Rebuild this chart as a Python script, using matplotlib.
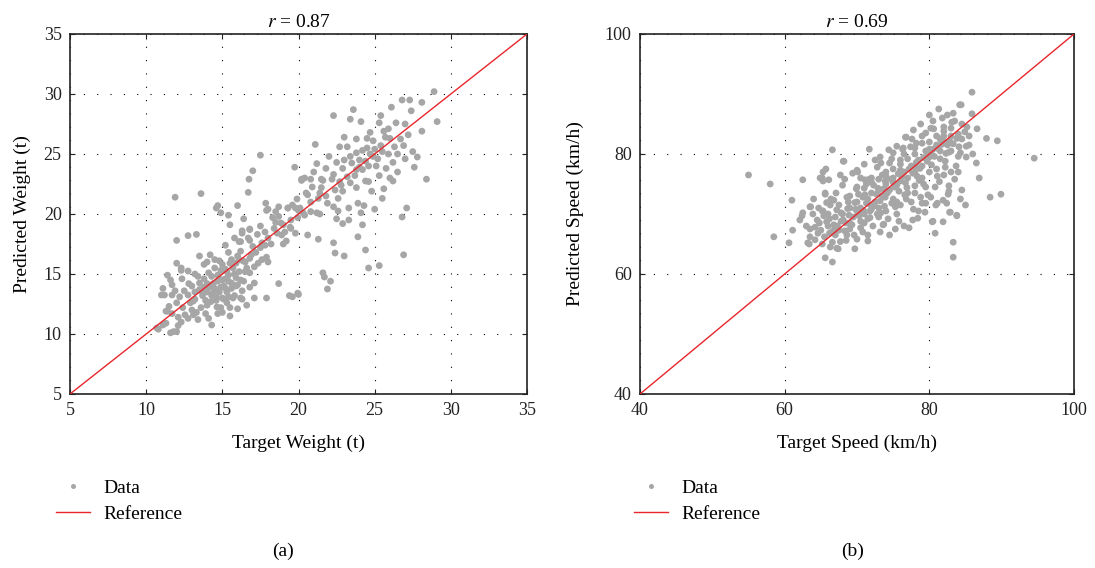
import numpy as np
import matplotlib
matplotlib.use("Agg")
import matplotlib.pyplot as plt
from matplotlib.lines import Line2D

plt.rcParams['font.family'] = ['Liberation Serif', 'DejaVu Serif']
plt.rcParams['mathtext.fontset'] = 'stix'

# --- (a) weight: (target, predicted) pairs ---
weight_pairs = [
    (10.7, 10.5), (10.8, 10.4), (11.1, 10.75), (11.3, 10.9), (11.6, 10.1), (12.0, 10.2), (11.8, 10.2),
    (12.1, 10.7), (12.3, 11.0), (11.3, 11.9), (11.7, 11.7), (11.4, 11.9), (12.1, 11.4), (12.4, 12.2),
    (12.55, 11.6), (12.75, 11.3), (13.1, 11.6), (13.3, 11.8), (13.4, 11.2), (13.1, 12.75), (13.9, 11.7),
    (13.9, 12.8), (14.3, 10.75), (14.25, 12.7), (14.7, 11.7), (14.9, 12.2), (14.65, 12.25), (11.0, 13.25),
    (11.2, 13.25), (11.7, 13.25), (12.2, 13.1), (12.75, 13.25), (11.1, 13.8), (11.7, 14.1), (11.6, 14.5),
    (11.4, 14.9), (12.0, 15.9), (12.3, 15.3), (12.35, 14.6), (12.75, 15.25), (12.3, 15.5), (13.5, 14.25),
    (13.5, 13.7), (14.0, 13.5), (14.3, 14.8), (14.5, 13.8), (14.8, 13.5), (14.7, 14.4), (15.0, 14.5),
    (15.1, 14.0), (14.9, 15.3), (15.4, 14.9), (15.6, 14.25), (15.9, 14.7), (15.7, 15.5), (16.4, 14.4),
    (16.35, 16.1), (16.8, 15.1), (17.1, 15.6), (15.4, 16.8), (16.0, 16.5), (14.8, 16.1), (16.2, 17.7),
    (16.3, 18.6), (16.8, 18.75), (17.3, 18.3), (16.7, 18.0), (17.6, 17.6), (18.0, 18.0), (17.8, 18.5),
    (17.9, 16.4), (17.6, 16.2), (17.35, 15.9), (18.0, 16.0), (18.5, 19.3), (18.6, 18.4), (18.9, 18.25),
    (19.2, 17.75), (19.8, 18.4), (19.95, 19.7), (20.3, 20.1), (16.2, 13.0), (15.3, 12.6), (15.5, 12.2),
    (15.5, 11.5), (16.0, 12.1), (16.6, 12.4), (17.1, 13.0), (17.9, 13.0), (18.7, 14.2), (19.6, 13.1),
    (19.95, 13.4), (16.8, 13.9), (17.1, 14.25), (16.3, 13.6), (15.4, 13.1), (12.0, 17.8), (12.75, 18.2),
    (13.3, 18.3), (11.9, 21.4), (13.6, 21.7), (14.7, 20.7), (14.9, 20.1), (14.6, 20.5), (15.4, 19.9),
    (15.5, 19.1), (16.0, 20.7), (16.4, 19.6), (16.3, 18.4), (16.8, 18.7), (16.1, 17.7), (16.8, 17.8),
    (17.5, 19.0), (17.85, 20.9), (17.9, 20.3), (18.3, 19.7), (18.7, 20.6), (18.5, 20.2), (18.85, 19.25),
    (19.1, 18.5), (19.3, 20.5), (19.45, 18.9), (19.0, 17.5), (19.8, 20.5), (19.9, 21.25), (20.5, 21.75),
    (20.6, 18.25), (20.4, 19.9), (17.5, 24.9), (17.0, 23.6), (16.75, 22.9), (16.7, 21.8), (19.75, 23.9),
    (20.2, 22.8), (18.0, 20.4), (19.6, 20.75), (19.5, 18.8), (19.0, 19.1), (21.2, 20.1), (21.3, 17.9),
    (21.7, 14.75), (21.9, 13.75), (22.1, 14.4), (20.0, 13.3), (19.4, 13.2),
    (13.7, 13.2), (14.2, 13.9), (14.4, 14.2), (14.6, 13.1), (14.9, 13.9), (15.2, 14.6), (15.3, 13.5),
    (15.6, 13.8), (15.8, 15.0), (16.1, 15.2), (16.0, 14.1), (15.0, 15.8), (14.5, 15.5), (14.1, 15.1),
    (13.8, 14.6), (13.2, 13.5), (12.9, 12.6), (13.6, 12.2), (15.9, 15.9), (16.5, 16.0), (15.1, 12.9),
    (16.6, 15.5), (13.4, 14.8), (14.0, 12.4), (13.0, 14.0), (15.6, 16.2), (14.2, 16.6), (16.2, 16.9),
    (17.0, 17.3), (15.8, 13.2), (14.4, 13.4), (15.0, 13.0), (13.8, 13.9), (15.3, 15.2), (14.7, 14.9),
    (13.2, 12.9), (13.6, 13.6), (14.0, 14.2), (14.3, 13.2), (14.6, 12.8), (14.8, 14.6), (15.2, 13.8),
    (15.4, 14.4), (15.7, 13.0), (15.9, 14.0), (16.2, 14.5), (16.5, 15.2), (16.8, 16.3), (17.2, 16.8),
    (17.5, 17.2), (17.8, 17.4), (18.2, 17.5), (18.4, 18.8), (15.2, 15.4), (14.5, 16.2), (13.8, 15.8),
    (13.2, 15.0), (12.8, 14.2), (12.5, 13.6), (12.0, 12.6), (11.5, 12.3), (11.9, 13.6), (13.0, 12.0),
    (14.1, 11.3), (15.0, 11.8), (16.3, 12.9), (15.5, 15.9), (16.1, 16.2), (16.9, 16.6), (14.0, 16.0),
    (13.5, 16.5), (15.2, 17.4), (15.8, 18.0), (18.7, 19.8), (19.5, 19.5), (20.0, 20.3),
    (28.9, 30.2), (28.1, 29.3), (27.3, 29.5), (26.8, 29.5), (26.1, 28.9), (27.4, 28.6), (29.1, 27.7),
    (28.1, 26.9), (23.6, 28.7), (22.3, 28.2), (23.4, 27.9), (24.1, 27.7), (25.4, 28.2), (25.3, 27.6),
    (25.9, 27.1), (27.0, 27.5), (26.7, 26.25), (26.9, 25.7), (27.0, 24.6), (27.8, 24.75), (27.6, 23.9),
    (28.4, 22.9), (27.1, 20.5), (26.8, 19.75), (26.9, 16.6), (26.2, 22.75), (25.5, 21.3), (25.3, 15.7),
    (24.6, 15.5), (24.4, 17.0), (23.9, 18.1), (24.2, 19.1), (24.1, 20.1), (24.3, 20.7), (23.9, 20.9),
    (23.0, 16.5), (22.4, 16.75), (22.3, 17.6), (21.6, 15.1), (23.3, 19.5), (22.9, 19.2), (22.5, 19.6),
    (22.6, 20.25), (23.3, 20.5), (22.3, 20.6), (21.9, 20.9), (21.4, 20.0), (20.8, 20.2), (21.1, 25.8),
    (20.2, 22.9), (20.8, 22.9), (20.9, 22.25), (21.6, 22.8), (21.5, 22.2), (21.4, 21.75), (20.6, 21.6),
    (20.1, 20.5), (19.3, 20.5), (22.0, 24.8), (21.8, 23.8), (22.3, 23.3), (22.7, 22.7), (22.5, 24.3),
    (22.7, 25.6), (23.2, 25.6), (23.4, 24.8), (23.8, 25.1), (23.8, 26.25), (23.5, 24.25), (23.8, 23.7),
    (22.9, 23.8), (23.2, 23.1), (23.8, 22.2), (24.5, 26.3), (24.5, 25.5), (24.4, 24.4), (24.2, 23.7),
    (24.4, 22.75), (24.6, 22.7), (24.9, 26.1), (24.9, 24.8), (25.1, 24.0), (25.3, 23.2), (25.75, 23.8),
    (25.4, 25.7), (25.7, 26.4), (24.7, 25.0), (25.0, 25.4), (25.9, 25.0), (26.2, 24.3), (26.0, 23.0),
    (21.2, 24.2), (22.9, 21.9), (25.6, 26.9), (24.0, 24.5), (26.5, 25.0), (27.5, 25.2), (25.6, 22.1),
    (21.0, 23.5), (20.4, 23.0), (20.8, 21.0), (21.3, 21.3), (21.8, 21.5), (22.4, 22.0), (22.8, 22.4),
    (23.4, 22.6), (23.7, 23.2), (24.0, 23.9), (24.6, 24.0), (25.2, 24.6), (25.5, 25.2), (26.3, 25.6),
    (26.0, 26.3), (24.2, 25.3), (23.0, 24.5), (22.2, 22.9), (21.5, 22.9), (23.0, 26.4), (24.7, 26.8),
    (26.4, 27.6), (27.2, 26.6), (22.6, 21.3), (24.8, 21.9), (25.0, 20.4), (26.5, 23.5),
]

# --- (b) speed: (target, predicted) pairs ---
speed_pairs = [
    (55.0, 76.5), (58.0, 75.0), (58.5, 66.2), (61.0, 72.3), (62.1, 69.0), (62.5, 75.7), (63.6, 71.2),
    (64.9, 76.0), (65.7, 77.5), (66.1, 75.7), (66.6, 80.7), (68.2, 78.8), (67.7, 76.5), (65.6, 73.3),
    (65.2, 70.5), (71.7, 80.8), (70.0, 77.3), (71.1, 75.7), (72.8, 77.8), (74.4, 80.7), (76.3, 80.8),
    (76.7, 82.8), (78.2, 81.8), (78.8, 85.0), (80.2, 84.3), (81.3, 87.5), (82.0, 84.5), (84.2, 88.2),
    (83.5, 85.5), (85.9, 90.3), (81.1, 76.3), (82.7, 73.8), (81.1, 71.8), (79.0, 71.8), (80.4, 68.7),
    (82.9, 70.3), (83.8, 69.7), (77.7, 69.0), (73.6, 68.2), (85.1, 79.5), (84.0, 77.0), (84.4, 88.2),
    (85.9, 86.7), (83.1, 85.3), (80.6, 84.2), (82.0, 83.8), (84.9, 83.7), (86.6, 84.2), (87.9, 82.6),
    (89.4, 82.2), (94.5, 79.3), (85.1, 81.3), (84.1, 81.2), (76.8, 82.8), (77.4, 81.2), (75.0, 80.2),
    (68.1, 78.8), (65.3, 77.0), (65.3, 75.5), (70.1, 77.0), (73.3, 78.5), (71.7, 75.8), (73.9, 75.5),
    (76.0, 77.3), (78.0, 78.0), (79.8, 79.7), (81.5, 79.2), (82.7, 80.3), (83.7, 78.0), (83.5, 75.8),
    (86.9, 76.0), (82.7, 74.7), (82.6, 73.3), (81.9, 72.3), (80.9, 71.5), (79.5, 71.8), (82.8, 70.3),
    (83.8, 69.8), (80.5, 68.8), (81.9, 68.7), (80.8, 66.8), (83.3, 65.3), (83.3, 62.8), (88.4, 72.8),
    (89.9, 73.3), (78.4, 69.3), (75.3, 67.5), (73.7, 68.3), (72.2, 68.0), (69.7, 64.2), (67.4, 64.2),
    (66.6, 62.0), (65.6, 62.7), (63.2, 65.2), (62.4, 69.7), (63.5, 71.2), (65.0, 67.3), (66.6, 65.3),
    (66.4, 72.5), (65.3, 70.5), (67.2, 70.7), (68.6, 72.8), (69.9, 74.2), (71.1, 73.2), (68.1, 69.0),
    (70.1, 70.2), (71.9, 71.5), (73.9, 72.8), (68.6, 66.5), (70.5, 67.7), (71.5, 69.2), (73.3, 70.2),
    (75.3, 71.2), (76.6, 73.2), (78.0, 74.7), (72.9, 74.3), (75.0, 75.3), (61.1, 67.3), (60.6, 65.2),
    (62.5, 70.2), (63.5, 66.2), (63.4, 65.0), (64.6, 66.8), (66.3, 64.5), (67.2, 64.3), (65.4, 69.7),
    (66.3, 71.5), (65.6, 73.5), (66.9, 67.5), (65.2, 76.0),
    (66.0, 68.0), (67.0, 69.5), (68.0, 70.0), (68.5, 68.5), (69.0, 71.0), (69.5, 69.5), (70.0, 72.0),
    (70.5, 71.0), (71.0, 70.0), (71.5, 72.5), (72.0, 73.5), (72.5, 72.0), (73.0, 74.0), (73.5, 73.0),
    (74.0, 75.0), (74.5, 74.0), (75.0, 76.0), (75.5, 74.8), (76.0, 75.5), (76.5, 77.0), (77.0, 76.0),
    (77.5, 78.0), (78.0, 77.0), (78.5, 79.0), (79.0, 78.0), (79.5, 80.5), (80.0, 79.5), (80.5, 80.8),
    (81.0, 81.5), (81.5, 80.5), (82.0, 82.0), (82.5, 81.5), (83.0, 83.0), (79.0, 76.0), (77.0, 73.5),
    (75.0, 72.5), (73.0, 71.0), (71.0, 68.5), (69.0, 67.5), (67.0, 66.5), (70.0, 74.5), (72.0, 76.0),
    (74.0, 77.0), (76.0, 79.0), (78.0, 80.0), (80.0, 82.0), (69.0, 73.0), (67.5, 71.5), (73.0, 69.5),
    (75.5, 70.0), (77.5, 72.0), (79.5, 74.5), (81.0, 77.5), (71.5, 66.5), (74.5, 66.5), (76.5, 68.0),
    (78.5, 70.5), (68.0, 74.8), (70.5, 76.0), (64.5, 69.0), (64.0, 72.5), (63.0, 68.0), (66.0, 70.0),
    (72.5, 79.0), (74.5, 78.5), (75.5, 81.3), (80.0, 86.5), (82.5, 86.5), (84.5, 85.0), (83.0, 80.5),
    (85.5, 83.0), (86.0, 80.0), (84.5, 74.0), (85.0, 71.5), (86.5, 78.5), (79.5, 83.5), (77.8, 84.0),
    (81.5, 82.5), (76.0, 71.5), (74.0, 70.5), (72.0, 70.8), (70.5, 68.8), (68.8, 72.0), (71.3, 75.0),
    (73.5, 76.5), (76.5, 80.0), (78.3, 76.3), (80.3, 78.2), (82.2, 78.8), (84.0, 79.6),
    (64.2, 67.8), (64.8, 68.5), (65.5, 66.2), (66.2, 66.8), (66.8, 68.2), (67.5, 67.3), (67.8, 68.8),
    (68.3, 67.2), (68.9, 69.8), (69.3, 68.2), (69.8, 70.8), (70.3, 69.7), (70.8, 72.8), (71.3, 71.8),
    (71.8, 70.5), (72.3, 74.8), (72.7, 73.3), (73.2, 72.2), (73.7, 74.2), (74.2, 73.5), (74.7, 75.8),
    (75.2, 74.5), (75.7, 76.7), (76.2, 76.2), (76.7, 75.2), (77.2, 77.5), (77.7, 76.8), (78.2, 78.6),
    (78.7, 77.6), (79.2, 79.4), (79.7, 78.8), (80.2, 80.2), (80.7, 79.6), (81.2, 80.9), (81.7, 81.6),
    (82.3, 80.1), (82.8, 82.2), (83.3, 81.7), (83.8, 82.6), (80.0, 77.0), (79.2, 75.0), (78.0, 73.5),
    (76.8, 72.5), (75.8, 73.8), (74.8, 71.8), (73.8, 71.3), (72.8, 70.0), (71.8, 69.4), (70.8, 67.0),
    (69.6, 66.5), (68.5, 65.6), (67.7, 65.4), (70.2, 73.3), (71.0, 74.3), (72.0, 75.3), (73.0, 75.8),
    (74.0, 76.3), (75.0, 77.5), (76.0, 78.3), (77.0, 79.2), (78.0, 81.0), (79.0, 81.8), (80.0, 80.8),
    (81.0, 83.0), (82.0, 83.0), (83.0, 84.3), (84.5, 82.5), (85.5, 81.5), (84.3, 80.2), (83.0, 77.0),
    (82.0, 76.5), (80.8, 74.5), (79.8, 73.2), (78.8, 72.8), (77.8, 70.8), (77.2, 67.7), (75.8, 68.8),
    (74.3, 69.2), (73.2, 67.0), (71.5, 65.5), (70.0, 65.8), (69.0, 68.5), (67.8, 70.2), (66.8, 72.3),
    (65.8, 71.9), (64.7, 71.0), (63.9, 70.0), (63.5, 67.5), (64.2, 65.7), (65.2, 65.0), (66.2, 69.2),
    (67.1, 73.5), (68.3, 75.8), (69.4, 76.8), (71.0, 78.3), (73.2, 79.5), (74.8, 79.2), (76.4, 81.0),
    (77.6, 82.5), (79.0, 83.0), (80.5, 85.5), (81.8, 86.0), (83.3, 86.8), (84.0, 83.3), (85.2, 84.5),
    (82.2, 77.8), (81.4, 75.4), (78.6, 75.6), (76.9, 74.4), (75.5, 72.0), (74.0, 73.8), (72.4, 71.4),
    (70.9, 70.6), (69.7, 71.9), (68.7, 70.9), (67.3, 68.0), (66.5, 67.0), (65.8, 68.7), (79.4, 70.3),
    (80.2, 72.8), (84.3, 72.5), (82.4, 71.8),
]

weight_r = 0.87
speed_r = 0.69
weight_ticks = [5, 10, 15, 20, 25, 30, 35]
speed_ticks = [40, 60, 80, 100]

GREY = '#a6a6a6'
RED = '#e8262b'


def draw_panel(ax, pairs, ticks, xlabel, ylabel, r, ylab_x):
    pts = np.array(pairs)
    lo, hi = ticks[0], ticks[-1]
    ax.grid(True, color='black', linestyle=(0, (1, 11)), linewidth=0.8, zorder=0)
    ax.scatter(pts[:, 0], pts[:, 1], s=24, color=GREY, edgecolors='none', zorder=2)
    ax.plot([lo, hi], [lo, hi], color=RED, linewidth=1.0, zorder=3)
    ax.set_xlim(lo, hi)
    ax.set_ylim(lo, hi)
    ax.set_xticks(ticks)
    ax.set_yticks(ticks)
    ax.tick_params(direction='in', top=True, right=True, length=3.5, width=0.8,
                   labelsize=13, pad=6, colors='#222222')
    for sp in ax.spines.values():
        sp.set_linewidth(1.2)
        sp.set_color('#222222')
    ax.set_title(f'$r$ = {r:.2f}', fontsize=14, pad=5)
    ax.set_xlabel(xlabel, fontsize=14)
    ax.set_ylabel(ylabel, fontsize=14)
    ax.xaxis.set_label_coords(0.5, -0.136)
    ax.xaxis.label.set_verticalalignment('center')
    ax.yaxis.set_label_coords(ylab_x, 0.5)
    ax.yaxis.label.set_verticalalignment('center')


fig = plt.figure(figsize=(10.95, 5.68), dpi=100)
ax1 = fig.add_axes([70 / 1095, 1 - 394 / 568, 457 / 1095, 360 / 568])
ax2 = fig.add_axes([640 / 1095, 1 - 394 / 568, 434 / 1095, 360 / 568])

draw_panel(ax1, weight_pairs, weight_ticks, 'Target Weight (t)', 'Predicted Weight (t)', weight_r, -0.105)
draw_panel(ax2, speed_pairs, speed_ticks, 'Target Speed (km/h)', 'Predicted Speed (km/h)', speed_r, -0.15)

handles = [
    Line2D([], [], linestyle='none', marker='o', markersize=3.6, color=GREY, markeredgewidth=0),
    Line2D([], [], color=RED, linewidth=1.0),
]
for x0 in (56, 634):
    fig.legend(handles, ['Data', 'Reference'], loc='upper left',
               bbox_to_anchor=(x0 / 1095, 1 - 479 / 568), frameon=False, fontsize=14,
               handlelength=1.75, handletextpad=0.7, labelspacing=0.45,
               borderpad=0, borderaxespad=0)

fig.text(283 / 1095, 1 - 551 / 568, '(a)', ha='center', va='center', fontsize=14)
fig.text(853 / 1095, 1 - 551 / 568, '(b)', ha='center', va='center', fontsize=14)

fig.savefig('out.png', dpi=100)
